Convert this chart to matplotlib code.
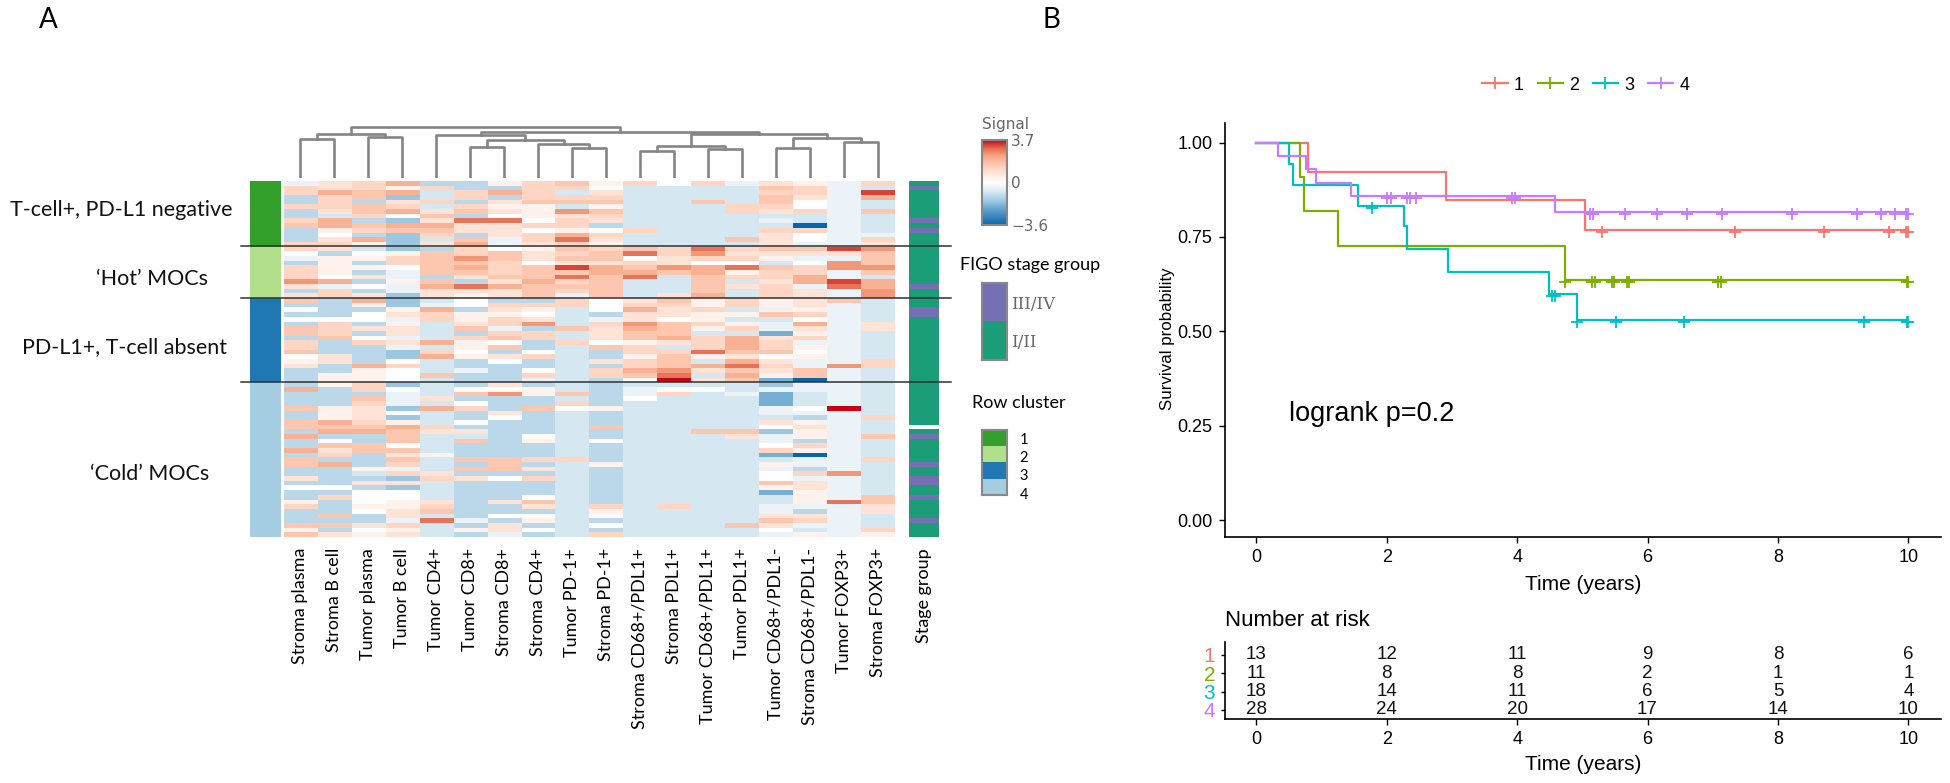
import numpy as np
import matplotlib
matplotlib.use("Agg")
import matplotlib.pyplot as plt
from matplotlib.colors import LinearSegmentedColormap, ListedColormap, Normalize
from matplotlib.cm import ScalarMappable
from matplotlib.lines import Line2D
from matplotlib.transforms import ScaledTranslation

W, H = 1950, 783

# ---------- heatmap data: colour levels per column, read row by row (top to bottom) ----------
column_names = ["Stroma plasma", "Stroma B cell", "Tumor plasma", "Tumor B cell", "Tumor CD4+", "Tumor CD8+",
                "Stroma CD8+", "Stroma CD4+", "Tumor PD-1+", "Stroma PD-1+", "Stroma CD68+/PDL1+", "Stroma PDL1+",
                "Tumor CD68+/PDL1+", "Tumor PDL1+", "Tumor CD68+/PDL1-", "Stroma CD68+/PDL1-", "Tumor FOXP3+",
                "Stroma FOXP3+"]

stroma_plasma = [-1,3,3,-3,-3,3,-3,-3,3,4,-3,-3,-3,3,3,0,-1,-3,3,3,3,6,2,-3,2] + \
    [4,-3,0,-3,0,-3,4,4,-3,3,3,4,0,1,2,-3,-3,-3] + [-3,5,-3,-3,-3,4,-3,-3] + \
    [4,4,-3,5,-3,-3,5,-3,4,4,-3,-3,2,-3,0,-3,-3,1,3,-3,-3,-3,4,1,4]
stroma_b = [2,2,5,3,3,3,2,-2,5,5,1,0,2,3,2,-3,1,1,1,1,0,5,-1,3,3] + \
    [-3,-3,-3,-3,0,3,3,3,4,-3,-3,-3,2,2,-3,-3,1,1] + [1,-3,-3,-3,-3,1,1,1] + \
    [5,4,5,-3,0,4,2,3,-3,5,-3,-3,-3,-3,0,-3,3,-3,-3,-3,4,-3,4,-3,2]
tumor_plasma = [3,3,4,4,-3,4,4,3,-3,4,3,-3,5,1,-2,0,1,-3,1,-3,2,-3,0,-3,2] + \
    [5,1,-3,0,0,-3,2,-3,0,3,-3,-3,-3,-3,5,1,1,1] + [3,3,-3,4,3,2,2,2] + \
    [3,4,5,-3,-3,4,4,-3,-3,-3,1,-2,-3,2,-3,0,0,0,1,0,-3,-3,2,0,1]
tumor_b = [5,1,5,-4,2,3,5,0,-4,5,4,-4,-4,-4,-4,1,3,3,0,-1,-1,1,-1,-1,-4] + \
    [-4,-4,1,2,-1,1,2,2,-1,2,-1,-4,-4,0,3,0,0,0] + [-4,0,-1,-1,-1,-4,0,-4] + \
    [1,5,4,4,4,0,4,2,4,3,-1,3,-4,2,-4,0,0,1,1,2,2,-1,3,1,2]
tumor_cd4 = [-3,3,-2,-2,3,-2,2,4,2,5,4,3,-2,2,-3,4,4,4,4,4,-3,4,5,2,2] + \
    [-2,-1,5,3,3,-2,-2,-2,-2,5,-2,3,5,-2,-2,-2,4,-2] + [-2,-2,-2,2,-2,5,-2,-2] + \
    [-2,3,2,-2,-2,-2,-2,1,-2,-2,-2,2,3,-2,-2,-2,-2,2,3,4,-2,7,-2,-2,-2]
tumor_cd8 = [-3,-3,3,3,-3,3,4,-3,7,2,2,-3,4,5,3,3,6,4,5,4,2,-3,7,2,1] + \
    [0,0,-3,1,1,2,4,-3,3,1,1,0,1,-3,-3,-1,-3,-3] + [-3,0,4,-3,0,3,-3,-3] + \
    [0,-3,2,-2,4,-3,-3,-3,4,-3,4,-3,2,-3,-3,-3,-3,-3,-3,-3,-3,-1,-3,1,-3]
stroma_cd8 = [1,-3,5,-3,2,1,2,0,7,2,2,2,-1,-1,0,4,4,3,3,3,4,2,5,2,2] + \
    [-3,3,2,1,3,3,-1,3,4,0,4,-3,2,0,-3,-3,-3,-3] + [2,0,6,-3,-3,-3,2,0] + \
    [-3,-3,-3,-3,-3,-3,-3,-3,4,4,4,-3,0,-3,-3,-3,-3,2,-3,-3,0,-3,2,2,-1]
stroma_cd4 = [3,3,3,3,4,1,1,1,0,3,0,3,3,2,1,2,2,0,4,4,4,5,4,4,4] + \
    [-3,3,1,0,2,6,-3,3,3,-3,-3,0,3,-3,-3,0,3,-1] + [-3,1,1,-3,-3,4,-3,-3] + \
    [-3,-3,-3,0,1,-3,-3,-3,3,-3,2,-3,3,-3,-3,-3,0,4,2,-3,0,1,-3,0,-3]
tumor_pd1 = [4,3,-2,3,4,-2,6,2,3,3,1,5,7,3,4,3,4,2,8,4,7,3,4,3,-1] + \
    [3,3,-2,-2,-2,-2,4,-2,-2,3,-2,-2,-2,-2,-2,-2,-2,-2] + [-2,-2,4,-2,3,0,-2,-2] + \
    [-2]*8 + [3] + [-2]*16
stroma_pd1 = [1,0,2,3,4,1,4,3,2,-3,0,3,2,1,3,4,4,2,5,5,4,4,4,4,4] + \
    [0,0,0,-3,-1,3,2,2,2,0,4,-3,-3,2,-3,3,3,-3] + [-3,-3,-3,-3,-3,1,-3,-3] + \
    [-3,4,-3,-3,0,-3,-3,-3,-3,1,-3,-3,-3,-3,-3,-3,-3,-3,3,1,0,-3,0,-3,3]
stroma_cd68_pdl1 = [3] + [-2]*9 + [3,-2,-2,-2,4,7,0,3,4,5,7,-2,-2,-2,-2] + \
    [2,3,5,2,2,6,5,4,4,1,3,3,1,3,3,5,4,0] + [-2,-1,-1,0,-2,-2,-2,-2] + [-2]*25
stroma_pdl1 = [0] + [-2]*13 + [3,3,2,2,6,4,-2,-2,-2,-2,2] + \
    [4,3,2,2,0,4,4,4,5,2,-2,3,4,4,4,6,7,9] + [-2,0,3,-2,-2,-2,-2,-2] + \
    [-2]*18 + [3] + [-2]*6
tumor_cd68_pdl1 = [3,-2,-2,-2,4] + [-2]*9 + [7,6,3,0,5,5,4,4,4,4,5] + \
    [1,1,3,1,1,3,1,-2,3,3,3,7,1,-2,5,2,-2,2] + [-2,0,-2,-2,-2,-2,-2,-2] + \
    [-2,-2,4] + [-2]*22
tumor_pdl1 = [-1,-2,-2,-2,-2,3,3,-2,-2,-2,-2,-2,4,-2,3,2,3,0,7,1,3,-2,2,-2,-2] + \
    [3,3,-2,1,-2,1,3,-2,5,5,5,4,2,5,7,4,5,4] + [-2,-2,-1,-2,-2,-2,-2,-2] + \
    [-2,-2,4,2] + [-2]*18 + [4,-2,-2]
tumor_cd68_neg = [2,4,3,4,4,3,2,-2,-1,-2,3,2,2,2,4,2,1,-2,4,3,3,2,3,3,3] + \
    [1,1,-1,4,-2,-1,-1,-5,2,3,3,4,0,2,3,2,1,-5] + [-4,-1,-5,-5,-5,-1,-1,-2] + \
    [2,0,-4,-1,-1,0,3,-5,-2,1,-1,0,0,4,1,-5,-2,-2,-1,-1,2,4,2,0,-1]
stroma_cd68_neg = [1,3,3,2,0,0,3,-2,-2,-9,3,0,0,-1,4,2,-1,0,3,3,5,5,-1,2,2] + \
    [2,2,1,3,0,5,2,1,3,-1,1,0,1,-1,-1,4,4,-9] + [-1,-1,-2,-2,-2,0,-1,-3] + \
    [1,2,1,1,-3,3,1,-9,-1,-1,-3,3,-1,2,2,1,1,1,-1,-3,2,3,-1,-2,1]
tumor_foxp3 = [-1]*14 + [8,2,-1,6,6,-1,-1,8,7,-1,-1] + \
    [4] + [-1]*13 + [6,-1,-1,-1] + [-1,-1,-1,-1,-1,9,-1,-1] + \
    [-1]*11 + [6] + [-1]*5 + [7] + [-1]*7
stroma_foxp3 = [3,-2,8,5,-2,-2,4,-2,-2,-2,-2,-1,3,2,6,4,4,4,6,4,-2,5,5,6,6] + \
    [-2,-2,-2,-2,-2,2,2,-2,-2,-2,-2,-2,-2,3,3,-2,-2,-2] + [-2,-2,-2,-2,-2,-2,-2,3] + \
    [-2,-2,-2,4,-2,-2,-2,-2,3] + [-2]*7 + [4,4,2,2,-2,-2,-2,3,1]

heat_columns = [stroma_plasma, stroma_b, tumor_plasma, tumor_b, tumor_cd4, tumor_cd8, stroma_cd8, stroma_cd4,
                tumor_pd1, stroma_pd1, stroma_cd68_pdl1, stroma_pdl1, tumor_cd68_pdl1, tumor_pdl1,
                tumor_cd68_neg, stroma_cd68_neg, tumor_foxp3, stroma_foxp3]

cluster_sizes = [14, 11, 18, 33]
cluster_labels = ["T-cell+, PD-L1 negative", "\u2018Hot\u2019 MOCs", "PD-L1+, T-cell absent", "\u2018Cold\u2019 MOCs"]
late_stage_rows = [1, 8, 10, 22, 27, 28, 54, 60, 63, 64, 67, 72]
missing_stage_rows = [52]

# dendrogram: (left child, right child, merge height); leaf = int column index, node = "nK"
dendro_merges = [
    (0, 1, 39), (2, 3, 41), ("n0", "n1", 44),
    (5, 6, 31), (8, 9, 30), (7, "n4", 34), ("n3", "n5", 38), (4, "n6", 43),
    (10, 11, 27), (12, 13, 29), ("n8", "n9", 32),
    (14, 15, 30), (16, 17, 36), ("n11", "n12", 40),
    ("n10", "n13", 44), ("n7", "n14", 46), ("n2", "n15", 51),
]

# ---------- survival data ----------
risk_groups = ["1", "2", "3", "4"]
risk_times = [0, 2, 4, 6, 8, 10]
risk_1 = [13, 12, 11, 9, 8, 6]
risk_2 = [11, 8, 8, 2, 1, 1]
risk_3 = [18, 14, 11, 6, 5, 4]
risk_4 = [28, 24, 20, 17, 14, 10]

t1 = [0, 0.79, 2.91, 5.04, 10]
s1 = [1.0, 0.923, 0.847, 0.769, 0.769]
c1 = [5.30, 7.34, 8.71, 9.71, 9.97, 10.0]
t2 = [0, 0.675, 0.73, 1.25, 4.74, 10]
s2 = [1.0, 0.909, 0.818, 0.727, 0.636, 0.636]
c2 = [4.74, 5.15, 5.19, 5.45, 5.48, 5.68, 5.72, 7.08, 7.12, 9.98, 10.0]
t3 = [0, 0.507, 0.565, 1.557, 2.27, 2.305, 2.94, 4.49, 4.92, 10]
s3 = [1.0, 0.944, 0.889, 0.833, 0.778, 0.717, 0.658, 0.599, 0.53, 0.53]
c3 = [1.78, 4.53, 4.58, 4.92, 5.51, 6.56, 9.32, 9.98, 10.0]
t4 = [0, 0.33, 0.76, 0.91, 1.45, 4.58, 10]
s4 = [1.0, 0.964, 0.929, 0.893, 0.858, 0.816, 0.816]
c4 = [2.01, 2.06, 2.31, 2.36, 2.45, 3.92, 3.96, 5.12, 5.17, 5.65, 6.15, 6.61, 7.14, 8.22, 9.21, 9.58, 9.79, 9.97, 10.0]

km_colors = ["#F8766D", "#7CAE00", "#00BFC4", "#C77CFF"]
cluster_colors = ["#33A02C", "#B2DF8A", "#1F78B4", "#A6CEE3"]
stage_colors = ["#1B9E77", "#7570B3"]

# ---------- helpers ----------
fig = plt.figure(figsize=(W / 100, H / 100), dpi=100, facecolor="white")


def axpx(x0, y0, x1, y1, **kw):
    return fig.add_axes([x0 / W, 1 - y1 / H, (x1 - x0) / W, (y1 - y0) / H], **kw)


def bare(ax):
    ax.set_xticks([])
    ax.set_yticks([])
    for s in ax.spines.values():
        s.set_visible(False)


HM = (283.5, 181, 894.5, 537)
GILL = "Lato"
ARIAL = "Liberation Sans"

level_nodes = [-9, -5, -4, -3, -2, -1, 0, 1, 2, 3, 4, 5, 6, 7, 8, 9]
level_cols = ["#0566ad", "#78b0d5", "#9cc7e0", "#bbd8ea", "#d6e8f2", "#ecf4f9", "#ffffff", "#fff2ec",
              "#ffe4d8", "#ffd6c4", "#fdc6ae", "#fab396", "#f39a78", "#e8765a", "#d84436", "#c90010"]
cmap = LinearSegmentedColormap.from_list("signal", [((v + 9) / 18, c) for v, c in zip(level_nodes, level_cols)])
norm = Normalize(-9, 9)

# heatmap
mat = np.array(heat_columns, dtype=float).T
ax = axpx(*HM)
ax.imshow(mat, cmap=cmap, norm=norm, aspect="auto", interpolation="nearest")
bare(ax)

# cluster side bar
clusters = np.repeat(np.arange(4), cluster_sizes)[:, None]
ax = axpx(249.5, 181, 280.5, 537)
ax.imshow(clusters, cmap=ListedColormap(cluster_colors), vmin=-0.5, vmax=3.5, aspect="auto", interpolation="nearest")
bare(ax)

# stage side bar
stage = np.zeros((mat.shape[0], 1))
stage[late_stage_rows] = 1
stage[missing_stage_rows] = np.nan
ax = axpx(908.5, 181, 938.5, 537)
ax.imshow(stage, cmap=ListedColormap(stage_colors), vmin=0, vmax=1, aspect="auto", interpolation="nearest")
bare(ax)

# dendrogram
ax = axpx(HM[0], 120, HM[2], 178)
ax.set_xlim(-0.5, 17.5)
ax.set_ylim(0, 58)
ax.axis("off")
nodes = {}


def node_pos(k):
    if isinstance(k, str):
        return nodes[k]
    return (k, 0)


for i, (a, b, h) in enumerate(dendro_merges):
    xa, ya = node_pos(a)
    xb, yb = node_pos(b)
    ax.plot([xa, xa, xb, xb], [ya, h, h, yb], color="#858585", lw=1.9, solid_joinstyle="round")
    nodes[f"n{i}"] = ((xa + xb) / 2, h)

# colour bar
cax = axpx(982, 140, 1007, 225)
cb = fig.colorbar(ScalarMappable(norm=norm, cmap=cmap), cax=cax)
cb.set_ticks([-9, 0, 9])
cb.set_ticklabels(["\u22123.6", "0", "3.7"])
cb.ax.tick_params(length=0, pad=3, labelsize=11, labelcolor="#666666")
cb.outline.set_edgecolor("#888888")
cb.outline.set_linewidth(1.5)
for lab in cb.ax.get_yticklabels():
    lab.set_family("DejaVu Sans")

# stage legend
ax = axpx(982, 283, 1007, 360)
ax.imshow(np.array([[1], [0]]), cmap=ListedColormap(stage_colors), vmin=0, vmax=1, aspect="auto")
ax.set_xticks([])
ax.yaxis.tick_right()
ax.set_yticks([0, 1])
ax.set_yticklabels(["III/IV", "I/II"], family="DejaVu Serif", fontsize=12, color="#666666")
ax.tick_params(length=0, pad=3)
for s in ax.spines.values():
    s.set_color("#888888")
    s.set_linewidth(1.5)

# row-cluster legend
ax = axpx(982, 430, 1007, 495)
ax.imshow(np.arange(4)[:, None], cmap=ListedColormap(cluster_colors), vmin=-0.5, vmax=3.5, aspect="auto")
ax.set_xticks([])
ax.yaxis.tick_right()
ax.set_yticks([0, 1.1, 2.25, 3.4])
ax.set_yticklabels(["1", "2", "3", "4"], family=GILL, fontsize=10.5, color="black")
ax.tick_params(length=0, pad=9)
for s in ax.spines.values():
    s.set_color("#888888")
    s.set_linewidth(1.5)

# Kaplan-Meier
XL = (-0.48, 10.5)
ax = axpx(1225, 123, 1941, 537)
curves = [(t1, s1, c1), (t2, s2, c2), (t3, s3, c3), (t4, s4, c4)]
handles = []
down = ax.transData + ScaledTranslation(0, -1.5 / 72, fig.dpi_scale_trans)
for (t, s, c), col, name in zip(curves, km_colors, risk_groups):
    ax.step(t, s, where="post", color=col, lw=1.6)
    sc = [s[np.searchsorted(t, v, side="right") - 1] for v in c]
    ax.plot(c, sc, ls="none", marker="+", ms=9, mew=1.3, color=col, transform=down)
    handles.append(Line2D([0], [0], color=col, lw=1.6, marker="+", ms=9, mew=1.3, label=name))
ax.set_xlim(*XL)
ax.set_ylim(-0.045, 1.052)
ax.set_xticks(risk_times)
ax.set_yticks([0, 0.25, 0.5, 0.75, 1.0])
ax.set_yticklabels(["0.00", "0.25", "0.50", "0.75", "1.00"])
ax.tick_params(labelsize=13, length=4, width=1, pad=5)
for lab in ax.get_xticklabels() + ax.get_yticklabels():
    lab.set_family(ARIAL)
ax.spines[["top", "right"]].set_visible(False)
ax.spines[["left", "bottom"]].set_linewidth(1.2)
ax.set_xlabel("Time (years)", family=ARIAL, fontsize=15, labelpad=6)
ax.set_ylabel("Survival probability", family=ARIAL, fontsize=12.2)
ax.yaxis.set_label_coords((1175 - 1225) / 716, 0.478)
ax.text(0.5, 0.28, "logrank p=0.2", family=ARIAL, fontsize=19.5, va="center", ha="left")
fig.legend(handles=handles, loc="center", bbox_to_anchor=(1586 / W, 1 - 85 / H), ncol=4, frameon=False,
           prop={"family": ARIAL, "size": 13}, handlelength=1.4, handletextpad=0.35, columnspacing=0.75)

# risk table
ax = axpx(1225, 642, 1941, 719)
rows = [risk_1, risk_2, risk_3, risk_4]
for i, r in enumerate(rows):
    for x, v in zip(risk_times, r):
        ax.text(x, 4 - i, str(v), family=ARIAL, fontsize=13.5, ha="center", va="center", color="#111111")
ax.set_xlim(*XL)
ax.set_ylim(0.5, 4.7)
ax.set_xticks(risk_times)
ax.set_yticks([4, 3, 2, 1])
ax.set_yticklabels(risk_groups)
for lab, col in zip(ax.get_yticklabels(), km_colors):
    lab.set_color(col)
    lab.set_family(ARIAL)
    lab.set_fontsize(15)
ax.tick_params(axis="x", labelsize=13, length=4, width=1, pad=5)
ax.tick_params(axis="y", length=3, width=1, pad=4)
for lab in ax.get_xticklabels():
    lab.set_family(ARIAL)
ax.spines[["top", "right"]].set_visible(False)
ax.spines[["left", "bottom"]].set_linewidth(1.2)
ax.set_xlabel("Time (years)", family=ARIAL, fontsize=15, labelpad=5)

# overlay with page-level text and rules
ov = fig.add_axes([0, 0, 1, 1], zorder=10)
ov.set_xlim(0, W)
ov.set_ylim(H, 0)
ov.axis("off")
ov.patch.set_alpha(0)
for y in (245.5, 298, 382):
    ov.plot([241, 951], [y, y], color="#303030", lw=1.1)
ov.text(48, 20, "A", family=GILL, fontsize=20, ha="center", va="center")
ov.text(1051, 20, "B", family=GILL, fontsize=20, ha="center", va="center")
for lab, cx, cy in zip(cluster_labels, (121, 152, 124, 150), (210, 279, 347, 474)):
    ov.text(cx, cy, lab, family=GILL, fontsize=15.5, ha="center", va="center", color="#111111")
cw = (HM[2] - HM[0]) / 18
for i, name in enumerate(column_names):
    ov.text(HM[0] + cw * (i + 0.5), 548, name, family=GILL, fontsize=13, rotation=90, ha="center", va="top")
ov.text(923.5, 548, "Stage group", family=GILL, fontsize=13, rotation=90, ha="center", va="top")
ov.text(982, 125, "Signal", family="DejaVu Sans", fontsize=11, color="#666666", ha="left", va="center")
ov.text(1030, 265, "FIGO stage group", family=GILL, fontsize=13, ha="center", va="center")
ov.text(1019, 403, "Row cluster", family=GILL, fontsize=13, ha="center", va="center")
ov.text(1225, 621, "Number at risk", family=ARIAL, fontsize=16, ha="left", va="center")

fig.savefig("out.png", dpi=100)
